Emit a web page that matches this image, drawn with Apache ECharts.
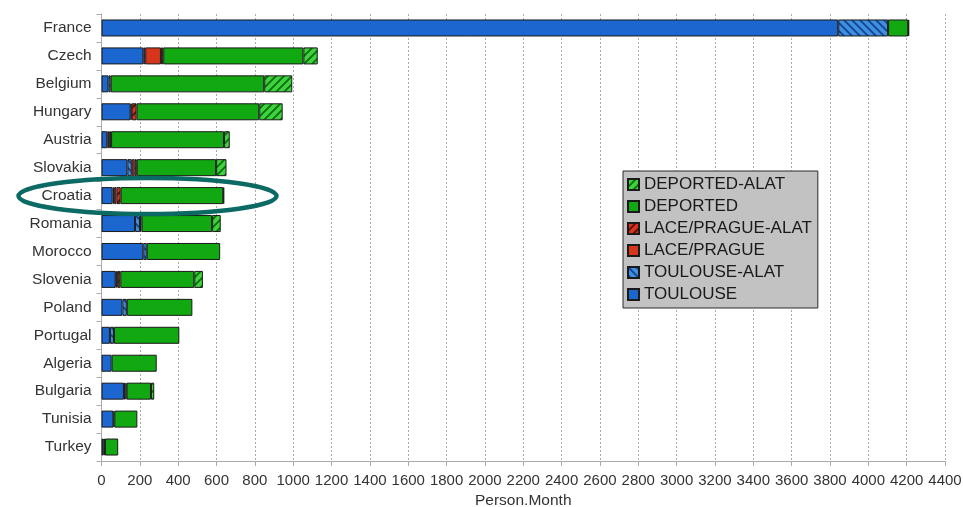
<!DOCTYPE html>
<html>
<head>
<meta charset="utf-8">
<script src="https://cdn.jsdelivr.net/npm/echarts@6/dist/echarts.min.js"></script>
<style>
html,body{margin:0;padding:0;background:#fff;}
#c{width:963px;height:507px;}
</style>
</head>
<body>
<div id="c"></div>
<script>
var categories = ["France","Czech","Belgium","Hungary","Austria","Slovakia","Croatia","Romania","Morocco","Slovenia","Poland","Portugal","Algeria","Bulgaria","Tunisia","Turkey"];
var toulouse       = [3843, 218, 36, 152, 30, 135, 58, 175, 218, 74, 109, 44, 53, 117, 62, 9];
var toulouseAlat   = [260, 10, 12, 5, 10, 23, 8, 26, 18, 5, 23, 21, 0, 8, 5, 9];
var lacePrague     = [0, 82, 0, 0, 0, 15, 12, 0, 0, 5, 0, 0, 0, 0, 0, 0];
var lacePragueAlat = [0, 12, 0, 26, 10, 11, 22, 8, 0, 14, 0, 0, 0, 6, 0, 0];
var deported       = [105, 731, 801, 640, 589, 414, 535, 368, 383, 386, 342, 341, 235, 127, 120, 69];
var deportedAlat   = [5, 75, 146, 122, 30, 54, 5, 45, 0, 45, 0, 0, 0, 17, 0, 0];
var xTicks = {min: 0, max: 4400, interval: 200};

function hatch(base, line, dir) {
  var c = document.createElement('canvas');
  c.width = 8; c.height = 8;
  var g = c.getContext('2d');
  g.fillStyle = base; g.fillRect(0, 0, 8, 8);
  g.strokeStyle = line; g.lineWidth = 1.8;
  g.beginPath();
  if (dir === '/') {
    g.moveTo(-2, 10); g.lineTo(10, -2);
    g.moveTo(-2, 2); g.lineTo(2, -2);
    g.moveTo(6, 10); g.lineTo(10, 6);
  } else {
    g.moveTo(-2, -2); g.lineTo(10, 10);
    g.moveTo(6, -2); g.lineTo(10, 2);
    g.moveTo(-2, 6); g.lineTo(2, 10);
  }
  g.stroke();
  return {image: c, repeat: 'repeat'};
}

var BLUE = '#1c66cf', GREEN = '#12a812', RED = '#d8361c';
var styles = {
  'TOULOUSE': BLUE,
  'TOULOUSE-ALAT': hatch('#3f8ee0', '#12448f', '\\'),
  'LACE/PRAGUE': RED,
  'LACE/PRAGUE-ALAT': hatch('#d8361c', '#5a0c04', '/'),
  'DEPORTED': GREEN,
  'DEPORTED-ALAT': hatch('#3fd23f', '#0a6e0a', '/')
};
var seriesData = [
  ['TOULOUSE', toulouse],
  ['TOULOUSE-ALAT', toulouseAlat],
  ['LACE/PRAGUE', lacePrague],
  ['LACE/PRAGUE-ALAT', lacePragueAlat],
  ['DEPORTED', deported],
  ['DEPORTED-ALAT', deportedAlat]
];

var chart = echarts.init(document.getElementById('c'));
var FONT = 'Liberation Sans, Arial, sans-serif';
chart.setOption({
  animation: false,
  backgroundColor: '#ffffff',
  grid: {left: 101.5, right: 18, top: 14, bottom: 46, containLabel: false, outerBoundsMode: 'none'},
  legend: {
    data: ['DEPORTED-ALAT','DEPORTED','LACE/PRAGUE-ALAT','LACE/PRAGUE','TOULOUSE-ALAT','TOULOUSE'],
    orient: 'vertical',
    left: 623, top: 171,
    backgroundColor: '#c2c2c2',
    borderColor: '#2a2a2a', borderWidth: 1, borderRadius: 0,
    padding: [5, 6, 5, 4],
    itemWidth: 11, itemHeight: 11, itemGap: 5,
    icon: 'rect',
    textStyle: {fontFamily: FONT, fontSize: 17, color: '#1a1a1a', padding: [0,0,0,0], lineHeight: 17},
    selectedMode: false
  },
  xAxis: {
    type: 'value', min: xTicks.min, max: xTicks.max, interval: xTicks.interval,
    name: 'Person.Month', nameLocation: 'middle', nameGap: 30,
    nameTextStyle: {fontFamily: FONT, fontSize: 15.5, color: '#333'},
    axisLine: {show: true, lineStyle: {color: '#aaa'}},
    axisTick: {show: true, length: 5, lineStyle: {color: '#aaa'}},
    axisLabel: {fontFamily: FONT, fontSize: 15, color: '#333', margin: 12,
      formatter: function (v) { return String(v); }},
    splitLine: {show: true, lineStyle: {color: '#aaa', type: [2, 2], width: 1}}
  },
  yAxis: {
    type: 'category', data: categories, inverse: true,
    axisLine: {show: true, lineStyle: {color: '#aaa'}},
    axisTick: {show: true, length: 5, lineStyle: {color: '#aaa'}},
    axisLabel: {fontFamily: FONT, fontSize: 15.5, color: '#333', margin: 10},
    splitLine: {show: false}
  },
  series: seriesData.map(function (s) {
    return {
      name: s[0], type: 'bar', stack: 'total', barWidth: 17,
      itemStyle: {color: styles[s[0]], borderColor: '#1a1a1a', borderWidth: 1},
      data: s[1].map(function (v) { return v === 0 ? null : v; })
    };
  }),
  graphic: [{
    type: 'ellipse', z: 100,
    shape: {cx: 147.5, cy: 196, rx: 129, ry: 18},
    style: {fill: 'none', stroke: '#0c6a64', lineWidth: 4.5}
  }]
});
</script>
</body>
</html>
